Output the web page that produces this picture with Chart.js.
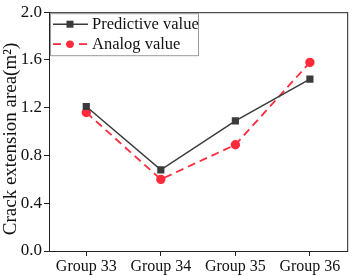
<!DOCTYPE html>
<html>
<head>
<meta charset="utf-8">
<script src="https://cdn.jsdelivr.net/npm/chart.js@4"></script>
<style>
  html, body { margin: 0; padding: 0; background: #fff; }
  #grafico { display: block; }
</style>
</head>
<body>
<canvas id="grafico" width="353" height="276"></canvas>
<script>
/* ===================== DATOS ===================== */
const grupos = ["Group 33", "Group 34", "Group 35", "Group 36"];
const valoresPrediccion = [1.21, 0.68, 1.09, 1.44];
const valoresAnalogos = [1.16, 0.6, 0.89, 1.58];
const ticksY = [0, 0.4, 0.8, 1.2, 1.6, 2.0];
const tituloY = "Crack extension area(m²)";

const FUENTE = "'Liberation Serif', 'Times New Roman', serif";

/* ===================== MARCO + LEYENDA + TITULO ===================== */
const marcoLeyenda = {
  id: "marcoLeyenda",
  afterDraw(chart) {
    const { ctx, chartArea: a } = chart;
    ctx.save();
    ctx.strokeStyle = "#222";
    ctx.lineWidth = 1;
    ctx.strokeRect(a.left + 0.5, a.top + 0.5, a.right - a.left, a.bottom - a.top);

    // titulo eje y
    ctx.save();
    ctx.translate(11, 139);
    ctx.rotate(-Math.PI / 2);
    ctx.font = "19px " + FUENTE;
    ctx.fillStyle = "#111";
    ctx.textAlign = "center";
    ctx.textBaseline = "middle";
    ctx.fillText(tituloY, 0, 0);
    ctx.restore();

    // leyenda dentro del area
    const x0 = a.left + 1, y0 = a.top + 1, w = 148, h = 42;
    ctx.strokeStyle = "#999";
    ctx.strokeRect(x0 + 0.5, y0 + 0.5, w, h);
    ctx.font = "16.5px " + FUENTE;
    ctx.textBaseline = "middle";
    chart.data.datasets.forEach((ds, i) => {
      const y = y0 + 11 + i * 20;
      ctx.strokeStyle = ds.borderColor;
      ctx.lineWidth = ds.borderWidth;
      ctx.setLineDash(ds.borderDash || []);
      ctx.beginPath();
      ctx.moveTo(x0 + 3, y);
      ctx.lineTo(x0 + 38, y);
      ctx.stroke();
      ctx.setLineDash([]);
      ctx.fillStyle = ds.pointBackgroundColor;
      if (ds.pointStyle === "rect") {
        ctx.fillRect(x0 + 20 - 3.5, y - 3.5, 7, 7);
      } else {
        ctx.beginPath();
        ctx.arc(x0 + 20, y, 3.8, 0, Math.PI * 2);
        ctx.fill();
      }
      ctx.fillStyle = "#111";
      ctx.fillText(ds.label, x0 + 42, y);
    });
    ctx.restore();
  },
};

/* ===================== GRAFICO ===================== */
new Chart(document.getElementById("grafico"), {
  type: "line",
  data: {
    labels: grupos,
    datasets: [
      {
        label: "Predictive value",
        data: valoresPrediccion,
        borderColor: "#3b3b3b",
        borderWidth: 1.5,
        pointStyle: "rect",
        pointRadius: 4,
        pointBackgroundColor: "#3b3b3b",
        pointBorderColor: "#3b3b3b",
        tension: 0,
      },
      {
        label: "Analog value",
        data: valoresAnalogos,
        borderColor: "#ff2a3c",
        borderWidth: 1.8,
        borderDash: [8, 5],
        pointStyle: "circle",
        pointRadius: 3.8,
        pointBackgroundColor: "#ff2a3c",
        pointBorderColor: "#ff2a3c",
        tension: 0,
      },
    ],
  },
  plugins: [marcoLeyenda],
  options: {
    responsive: false,
    animation: false,
    layout: { padding: { top: 7, right: 1, left: 0, bottom: 0 } },
    plugins: {
      legend: { display: false },
      tooltip: { enabled: false },
    },
    scales: {
      x: {
        offset: true,
        grid: {
          display: true,
          drawOnChartArea: false,
          drawTicks: true,
          tickLength: 5,
          color: "#222",
        },
        border: { color: "#222", width: 1 },
        ticks: {
          color: "#111",
          font: { family: FUENTE, size: 16 },
          padding: 1,
          maxRotation: 0,
        },
        afterFit: (s) => { s.height = 25; },
      },
      y: {
        min: 0,
        max: 2,
        afterBuildTicks: (s) => { s.ticks = ticksY.map((v) => ({ value: v })); },
        grid: {
          display: true,
          drawOnChartArea: false,
          drawTicks: true,
          tickLength: 5,
          color: "#222",
        },
        border: { color: "#222", width: 1 },
        ticks: {
          color: "#111",
          font: { family: FUENTE, size: 17 },
          padding: 2,
          callback: (v) => Number(v).toFixed(1),
        },
        afterFit: (s) => { s.width = 49; },
      },
    },
  },
});
</script>
</body>
</html>
